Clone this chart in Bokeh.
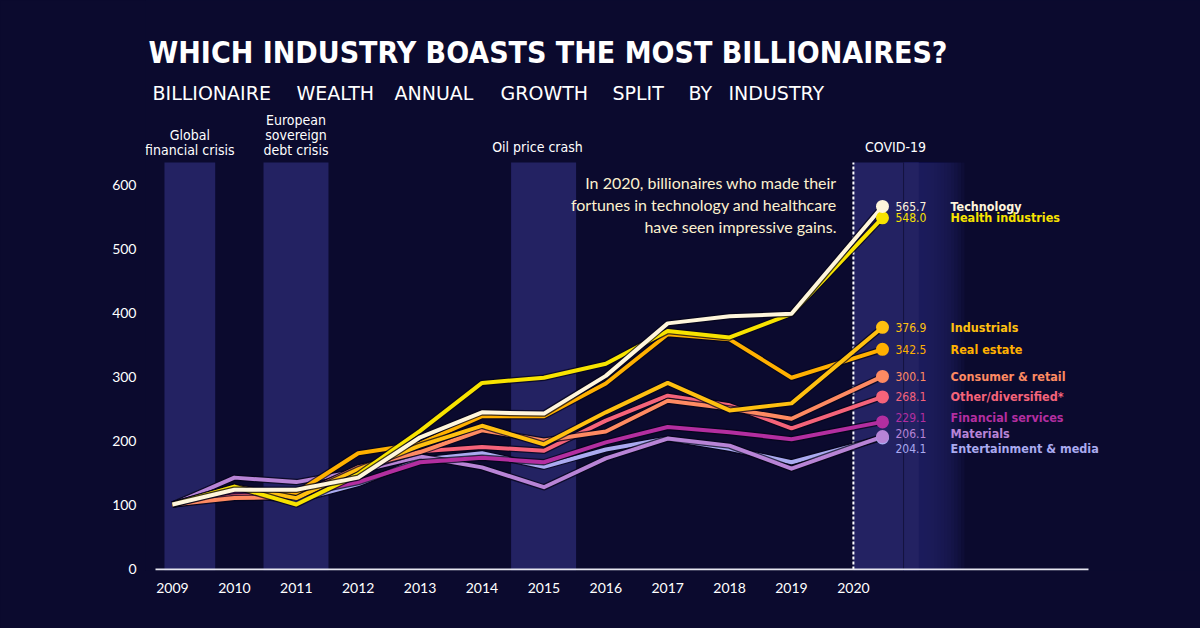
from bokeh.plotting import figure
from bokeh.models import Range1d, FixedTicker, GlobalInlineStyleSheet, Label
from bokeh.embed import file_html
from bokeh.resources import INLINE

# ---------------- data ----------------
years = [2009, 2010, 2011, 2012, 2013, 2014, 2015, 2016, 2017, 2018, 2019, 2020]
# x position of each reading (the 2020 reading is drawn a little to the right of the 2020 tick)
x_pos = [2009, 2010, 2011, 2012, 2013, 2014, 2015, 2016, 2017, 2018, 2019, 2020.47]

series_names = ["Entertainment & media", "Materials", "Financial services", "Other/diversified*",
                "Consumer & retail", "Real estate", "Industrials", "Health industries", "Technology"]
entertainment = [100, 117, 106, 132, 170, 180, 159, 186, 203, 187, 166, 204.1]
materials = [100, 142, 135, 152, 175, 158, 127, 172, 203, 192, 156, 206.1]
financial = [100, 117, 115, 135, 166, 173, 166, 197, 221, 213, 202, 229.1]
other = [100, 113, 116, 155, 183, 190, 184, 231, 270, 255, 219, 268.1]
consumer = [100, 110, 112, 158, 182, 216, 200, 214, 262, 250, 234, 300.1]
real_estate = [100, 125, 118, 180, 195, 238, 238, 289, 366, 358, 298, 342.5]
industrials = [100, 128, 110, 155, 192, 223, 194, 244, 290, 247, 258, 376.9]
health = [100, 128, 100, 147, 215, 290, 298, 320, 371, 361, 398, 548.0]
technology = [100, 123, 123, 142, 205, 244, 242, 301, 383, 394, 398, 565.7]
series_values = [entertainment, materials, financial, other, consumer,
                 real_estate, industrials, health, technology]

event_names = ["Global\nfinancial crisis", "European\nsovereign\ndebt crisis", "Oil price crash", "COVID-19"]
event_start = [2008.87, 2010.47, 2014.47, 2020.0]
event_end = [2009.69, 2011.52, 2015.52, 2020.81]

y_ticks = [0, 100, 200, 300, 400, 500, 600]

title = "WHICH INDUSTRY BOASTS THE MOST BILLIONAIRES?"
subtitle_words = ["BILLIONAIRE", "WEALTH", "ANNUAL", "GROWTH", "SPLIT", "BY", "INDUSTRY"]
note = "In 2020, billionaires who made their\nfortunes in technology and healthcare\nhave seen impressive gains."

# ---------------- styles / layout ----------------
BG = "#0b0a2e"
BAND = "#232262"
colors = ["#aaaaf0", "#b884d6", "#b32ea0", "#f5637a", "#fe8a62",
          "#ffb000", "#ffc010", "#f8e300", "#fff6dc"]
label_offset = [-16.6, 5.5, 7.5, 0, 0, 0, 0, 0, 0]  # de-overlap of right-hand labels
subtitle_px = [152, 296, 394, 500, 612, 688, 728]    # word start, page px

COND = "DejaVu Sans Condensed"
SANS = "Lato"

W, H = 1200, 628
# page-pixel helpers
def X(px):
    return 2009 + (px - 172) / 61.9

def Y(py):
    return (568 - py) / 0.64

FL = 145  # frame left (page px)
band_top = Y(162)

p = figure(width=W, height=H, output_backend="svg", toolbar_location=None,
           x_range=Range1d(X(FL), X(W)), y_range=Range1d(Y(570), Y(0)),
           min_border_left=FL, min_border_right=0, min_border_top=0, min_border_bottom=H - 570,
           background_fill_color=BG, border_fill_color=BG, outline_line_color=None,
           stylesheets=[GlobalInlineStyleSheet(css="html,body{background:%s;}" % BG)])
p.grid.visible = False

# axes
p.xaxis.ticker = FixedTicker(ticks=years)
p.xaxis.axis_line_color = None
p.xaxis.major_tick_line_color = None
p.xaxis.minor_tick_line_color = None
p.xaxis.major_label_text_color = "white"
p.xaxis.major_label_text_font = SANS
p.xaxis.major_label_text_font_size = "14px"
p.xaxis.major_label_standoff = 6

p.yaxis.ticker = FixedTicker(ticks=y_ticks)
p.yaxis.axis_line_color = None
p.yaxis.major_tick_line_color = None
p.yaxis.minor_tick_line_color = None
p.yaxis.major_label_text_color = "white"
p.yaxis.major_label_text_font = SANS
p.yaxis.major_label_text_font_size = "14px"
p.yaxis.major_label_standoff = 3

# event bands
p.quad(left=event_start, right=event_end, bottom=Y(570), top=band_top,
       fill_color=BAND, line_color=None)
# fading tail of the COVID band (nested translucent quads)
x0, x1 = event_end[-1], X(964)
n = 18
rights = [x0 + (x1 - x0) * (i + 1) / n for i in range(n)]
p.quad(left=[x0] * n, right=rights, bottom=Y(570), top=band_top,
       fill_color=BAND, fill_alpha=0.15, line_color=None)
p.quad(left=[x0], right=[x0 + (x1 - x0) * 0.25], bottom=Y(570), top=band_top,
       fill_color=BAND, line_color=None)
p.segment(x0=[event_end[-1]], x1=[event_end[-1]], y0=[Y(569)], y1=[band_top],
          line_color="#15143f", line_width=1)
# COVID dashed marker
p.segment(x0=[event_start[-1]], x1=[event_start[-1]], y0=[Y(569)], y1=[band_top],
          line_color="white", line_width=2, line_dash="3 2")

# baseline (x axis line)
p.segment(x0=[X(155)], x1=[X(1088)], y0=[Y(569)], y1=[Y(569)],
          line_color="#e6e6ef", line_width=2)

# event labels
ev_x = [(s + e) / 2 for s, e in zip(event_start, event_end)]
ev_x[2] = X(537)
ev_x[3] = X(895)
ev_bottom = [Y(158), Y(158), Y(154), Y(154)]
for ex, ey, et in zip(ev_x, ev_bottom, event_names):
    p.add_layout(Label(x=ex, y=ey, text=et, text_font=COND, text_font_size="14px",
                       text_color="white", text_align="center", text_baseline="bottom",
                       text_line_height=0.95))

# lines
for vals, c in zip(series_values, colors):
    p.line(x_pos, vals, line_color="#050418", line_width=6.5, line_alpha=0.75, line_join="round")
    p.line(x_pos, vals, line_color=c, line_width=4, line_join="round")
for vals, c in zip(series_values, colors):
    p.scatter([x_pos[-1]], [vals[-1]], size=13, fill_color=c, line_color=None)

# right-hand labels
for vals, name, c, off in zip(series_values, series_names, colors, label_offset):
    v = vals[-1]
    p.add_layout(Label(x=X(895), y=v + off, text="%.1f" % v, text_font=COND,
                       text_font_size="12px", text_color=c, text_align="left",
                       text_baseline="middle"))
    p.add_layout(Label(x=X(950), y=v + off, text=name, text_font=COND,
                       text_font_size="12.5px", text_font_style="bold", text_color=c,
                       text_align="left", text_baseline="middle"))

# annotation
p.add_layout(Label(x=X(836), y=Y(172), text=note, text_font=SANS, text_font_size="16px",
                   text_color="#fdf1cf", text_align="right", text_baseline="top",
                   text_line_height=1.17))

# titles
p.add_layout(Label(x=X(148), y=Y(52), text=title, text_font=COND, text_font_size="30px",
                   text_font_style="bold", text_color="white", text_align="left",
                   text_baseline="middle"))
for wx, wt in zip(subtitle_px, subtitle_words):
    p.add_layout(Label(x=X(wx), y=Y(92), text=wt, text_font="DejaVu Sans",
                       text_font_size="19px", text_color="white", text_align="left",
                       text_baseline="middle"))

open("out.html", "w").write(file_html(p, INLINE))
